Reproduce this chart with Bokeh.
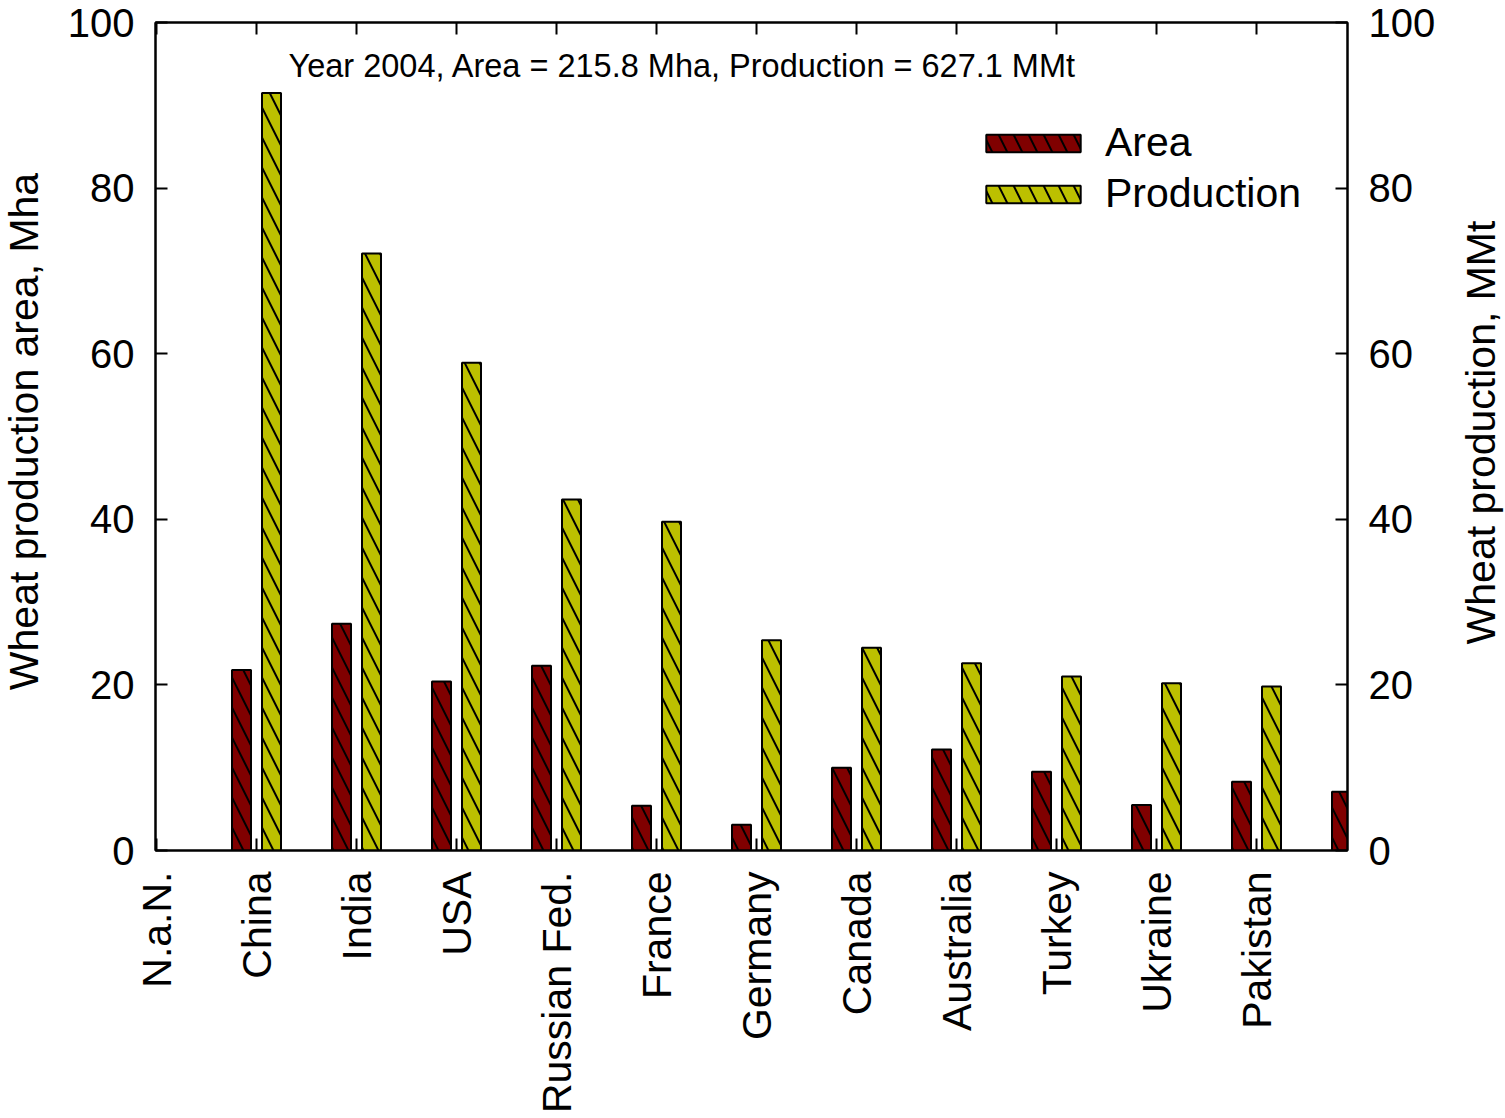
import math
from bokeh.plotting import figure
from bokeh.layouts import row
from bokeh.models import (Range1d, LinearAxis, FixedTicker, Label, Legend, LegendItem,
                          ColumnDataSource)
from bokeh.embed import file_html
from bokeh.resources import INLINE

# ---- data ----
categories = ["N.a.N.", "China", "India", "USA", "Russian Fed.", "France", "Germany",
              "Canada", "Australia", "Turkey", "Ukraine", "Pakistan", ""]
area = [float("nan"), 21.8, 27.4, 20.4, 22.3, 5.4, 3.1, 10.0, 12.2, 9.5, 5.5, 8.3, 7.1]
production = [float("nan"), 91.5, 72.1, 58.9, 42.4, 39.7, 25.4, 24.5, 22.6, 21.0, 20.2, 19.8, float("nan")]
y_ticks = [0, 20, 40, 60, 80, 100]
annotation = "Year 2004, Area = 215.8 Mha, Production = 627.1 MMt"
left_title = "Wheat production area, Mha"
right_title = "Wheat production, MMt"

FONT = "Liberation Sans"
AREA_COLOR = "#800000"
PROD_COLOR = "#bcc000"

H = 1116
LW = 50                      # left title strip
RW = 58                      # right title strip
FL, FT, FW, FH = 155, 22, 1192, 828
MW = 1505 - LW - RW          # main figure width
p = figure(width=MW, height=H, output_backend="svg", toolbar_location=None,
           x_range=Range1d(-0.01, 11.91), y_range=Range1d(0, 100),
           frame_width=FW, frame_height=FH,
           min_border_left=FL - LW, min_border_top=FT, min_border_right=MW - (FL - LW) - FW,
           min_border_bottom=H - FT - FH, x_axis_location=None, y_axis_location=None)
p.extra_y_ranges = {"right": Range1d(0, 100)}
p.xgrid.visible = False
p.ygrid.visible = False
p.outline_line_color = "black"
p.outline_line_width = 2
p.background_fill_color = "white"
p.border_fill_color = "white"

xs = list(range(len(categories)))
src = ColumnDataSource(dict(
    xa=[x - 0.15 for x in xs], xp=[x + 0.15 for x in xs], area=area, prod=production))

hatch = dict(hatch_pattern="\\", hatch_color="black", hatch_weight=2, hatch_scale=30)
ra = p.vbar(x="xa", top="area", bottom=0, width=0.19, source=src,
            fill_color=AREA_COLOR, line_color="black", line_width=2, **hatch)
rp = p.vbar(x="xp", top="prod", bottom=0, width=0.19, source=src,
            fill_color=PROD_COLOR, line_color="black", line_width=2, **hatch)

def style_axis(ax, ticks, size="40px"):
    ax.ticker = FixedTicker(ticks=ticks)
    ax.axis_line_width = 2
    ax.major_tick_line_width = 2
    ax.major_tick_in = 12
    ax.major_tick_out = 0
    ax.minor_tick_in = 0
    ax.minor_tick_out = 0
    ax.major_label_text_font = FONT
    ax.major_label_text_font_size = size
    ax.major_label_text_color = "black"

left = LinearAxis()
style_axis(left, y_ticks)
left.major_label_standoff = 21
p.add_layout(left, "left")

right = LinearAxis(y_range_name="right")
style_axis(right, y_ticks)
right.major_label_standoff = 21
p.add_layout(right, "right")

bottom = LinearAxis()
style_axis(bottom, xs, size="41px")
bottom.major_label_overrides = {i: c for i, c in enumerate(categories)}
bottom.major_label_orientation = math.pi / 2
bottom.major_label_standoff = 21
p.add_layout(bottom, "below")

top = LinearAxis()
style_axis(top, xs)
top.major_label_text_font_size = "0px"
top.major_label_text_alpha = 0
p.add_layout(top, "above")

p.add_layout(Label(x=1.32, y=94.7, text=annotation, text_font=FONT,
                   text_font_size="32.5px", text_baseline="middle", text_color="black"))

legend = Legend(items=[LegendItem(label="Area", renderers=[ra]),
                       LegendItem(label="Production", renderers=[rp])],
                location=(819, 633), padding=0, margin=0, spacing=4,
                glyph_width=118, glyph_height=22, label_standoff=13,
                label_text_font=FONT, label_text_font_size="41px",
                label_text_color="black",
                border_line_color=None, background_fill_alpha=0)
p.add_layout(legend, "center")


def title_strip(width, text, cx, cy):
    f = figure(width=width, height=H, output_backend="svg", toolbar_location=None,
               x_range=Range1d(0, width), y_range=Range1d(0, H),
               frame_width=width, frame_height=H, min_border=0,
               x_axis_location=None, y_axis_location=None)
    f.xgrid.visible = False
    f.ygrid.visible = False
    f.outline_line_color = None
    f.background_fill_color = "white"
    f.border_fill_color = "white"
    f.add_layout(Label(x=cx, y=H - cy, text=text, angle=math.pi / 2, text_font=FONT,
                       text_font_size="41px", text_align="center",
                       text_baseline="middle", text_color="black"))
    return f

# the strips' frames are aligned with the main frame (22 px lower), hence cy - 22
lt = title_strip(LW, left_title, 23, 431 - 22)
rt = title_strip(RW, right_title, 1480 - (1505 - RW), 432 - 22)

layout = row(lt, p, rt, spacing=0)
open("out.html", "w").write(file_html(layout, INLINE))
